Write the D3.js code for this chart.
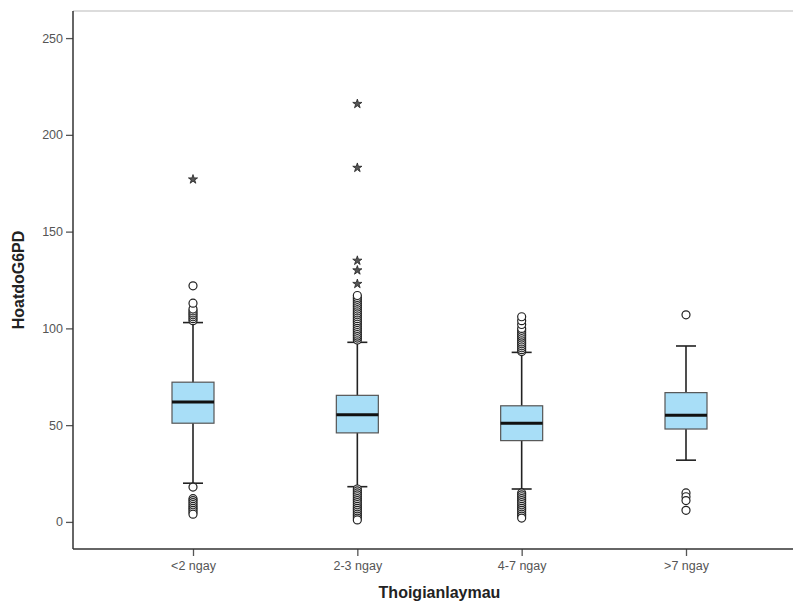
<!DOCTYPE html>
<html>
<head>
<meta charset="utf-8">
<script src="https://cdn.jsdelivr.net/npm/d3@7"></script>
<style>
  body { margin: 0; background: #fff; }
  svg { display: block; font-family: "Liberation Sans", Arial, sans-serif; }
</style>
</head>
<body>
<main></main>
<script>
    // data
    const categories = ['<2 ngay', '2-3 ngay', '4-7 ngay', '>7 ngay'];
    const q1 = [51, 46, 42, 48];
    const median = [62, 55.4, 51, 55.1];
    const q3 = [72.2, 65.4, 60, 66.8];
    const whiskerLow = [20, 18.2, 17, 31.9];
    const whiskerHigh = [103, 92.8, 87.6, 90.9];
    const circles = [
        [104, 105, 106, 107, 108, 109, 110, 113, 122, 18, 12, 11, 10, 9, 8, 7, 6, 5, 4],
        [94, 95, 96, 97, 98, 99, 100, 101, 102, 103, 104, 105, 106, 107, 108, 109, 110, 111, 112, 113, 114, 115, 116, 117,
         17, 16, 15, 14, 13, 12, 11, 10, 9, 8, 7, 6, 5, 4, 3, 2, 1],
        [88, 89, 90, 91, 92, 93, 94, 95, 96, 97, 98, 99, 100, 102, 104, 106,
         15, 14, 13, 12, 11, 10, 9, 8, 7, 6, 5, 4, 3, 2],
        [107, 15, 13, 11, 6]
    ];
    const stars = [
        [177],
        [123, 130, 135, 183, 216],
        [],
        []
    ];
    const yTicks = [0, 50, 100, 150, 200, 250];

    const sizeOfSVG = { width: 793, height: 603 };
    const plot = { left: 73, right: 806, top: 11, bottom: 549 };

    const svg = d3.select('main').append('svg')
        .attr('width', sizeOfSVG.width)
        .attr('height', sizeOfSVG.height);

    const xScale = d3.scalePoint()
        .domain(categories)
        .range([193, 686]);
    const yScale = d3.scaleLinear()
        .domain([-14, 264])
        .range([plot.bottom, plot.top]);

    // top frame line (light)
    svg.append('line')
        .attr('x1', plot.left).attr('x2', plot.right)
        .attr('y1', plot.top).attr('y2', plot.top)
        .attr('stroke', '#dcdcdc').attr('stroke-width', 2);

    // axes
    const yAxis = svg.append('g')
        .attr('transform', `translate(${plot.left},0)`)
        .call(d3.axisLeft(yScale).tickValues(yTicks).tickSize(7).tickPadding(3).tickSizeOuter(0));
    const xAxis = svg.append('g')
        .attr('transform', `translate(0,${plot.bottom})`)
        .call(d3.axisBottom(xScale).tickSize(7).tickPadding(5).tickSizeOuter(0));

    [yAxis, xAxis].forEach(ax => {
        ax.select('.domain').remove();
        ax.selectAll('.tick line').attr('stroke', '#555').attr('stroke-width', 1.3);
        ax.selectAll('.tick text').attr('fill', '#555').style('font-size', '12.5px')
            .style('font-family', '"Liberation Sans", Arial, sans-serif');
    });

    svg.append('line')
        .attr('x1', plot.left).attr('x2', plot.left)
        .attr('y1', plot.top).attr('y2', plot.bottom)
        .attr('stroke', '#333').attr('stroke-width', 1.5);
    svg.append('line')
        .attr('x1', plot.left).attr('x2', plot.right)
        .attr('y1', plot.bottom).attr('y2', plot.bottom)
        .attr('stroke', '#333').attr('stroke-width', 1.5);

    // boxes
    const boxW = 42, capW = 20;
    const groups = svg.selectAll('g.box')
        .data(categories)
        .enter().append('g').attr('class', 'box');

    groups.append('line')
        .attr('x1', d => xScale(d)).attr('x2', d => xScale(d))
        .attr('y1', (d, i) => yScale(whiskerHigh[i])).attr('y2', (d, i) => yScale(whiskerLow[i]))
        .attr('stroke', '#222').attr('stroke-width', 1.6);
    groups.append('line')
        .attr('x1', d => xScale(d) - capW / 2).attr('x2', d => xScale(d) + capW / 2)
        .attr('y1', (d, i) => yScale(whiskerHigh[i])).attr('y2', (d, i) => yScale(whiskerHigh[i]))
        .attr('stroke', '#222').attr('stroke-width', 1.6);
    groups.append('line')
        .attr('x1', d => xScale(d) - capW / 2).attr('x2', d => xScale(d) + capW / 2)
        .attr('y1', (d, i) => yScale(whiskerLow[i])).attr('y2', (d, i) => yScale(whiskerLow[i]))
        .attr('stroke', '#222').attr('stroke-width', 1.6);
    groups.append('rect')
        .attr('x', d => xScale(d) - boxW / 2)
        .attr('y', (d, i) => yScale(q3[i]))
        .attr('width', boxW)
        .attr('height', (d, i) => yScale(q1[i]) - yScale(q3[i]))
        .attr('fill', '#a8def7').attr('stroke', '#555').attr('stroke-width', 1.2);
    groups.append('line')
        .attr('x1', d => xScale(d) - boxW / 2).attr('x2', d => xScale(d) + boxW / 2)
        .attr('y1', (d, i) => yScale(median[i])).attr('y2', (d, i) => yScale(median[i]))
        .attr('stroke', '#111').attr('stroke-width', 3);

    // outliers
    groups.each(function (d, i) {
        const g = d3.select(this);
        g.selectAll('circle')
            .data(circles[i])
            .enter().append('circle')
            .attr('cx', xScale(d))
            .attr('cy', v => yScale(v))
            .attr('r', 4)
            .attr('fill', '#fff').attr('stroke', '#222').attr('stroke-width', 1.2);
        g.selectAll('path.star')
            .data(stars[i])
            .enter().append('path').attr('class', 'star')
            .attr('transform', v => `translate(${xScale(d)},${yScale(v)})`)
            .attr('d', d3.symbol().type(d3.symbolStar).size(26))
            .attr('fill', '#555').attr('stroke', '#222').attr('stroke-width', 0.8);
    });

    // axis titles
    svg.append('text')
        .attr('x', (plot.left + plot.right) / 2).attr('y', 598)
        .attr('text-anchor', 'middle')
        .style('font-size', '16px').style('font-weight', 'bold').attr('fill', '#222')
        .text('Thoigianlaymau');
    svg.append('text')
        .attr('transform', `translate(24,${(plot.top + plot.bottom) / 2}) rotate(-90)`)
        .attr('text-anchor', 'middle')
        .style('font-size', '16px').style('font-weight', 'bold').attr('fill', '#222')
        .text('HoatdoG6PD');
</script>
</body>
</html>
